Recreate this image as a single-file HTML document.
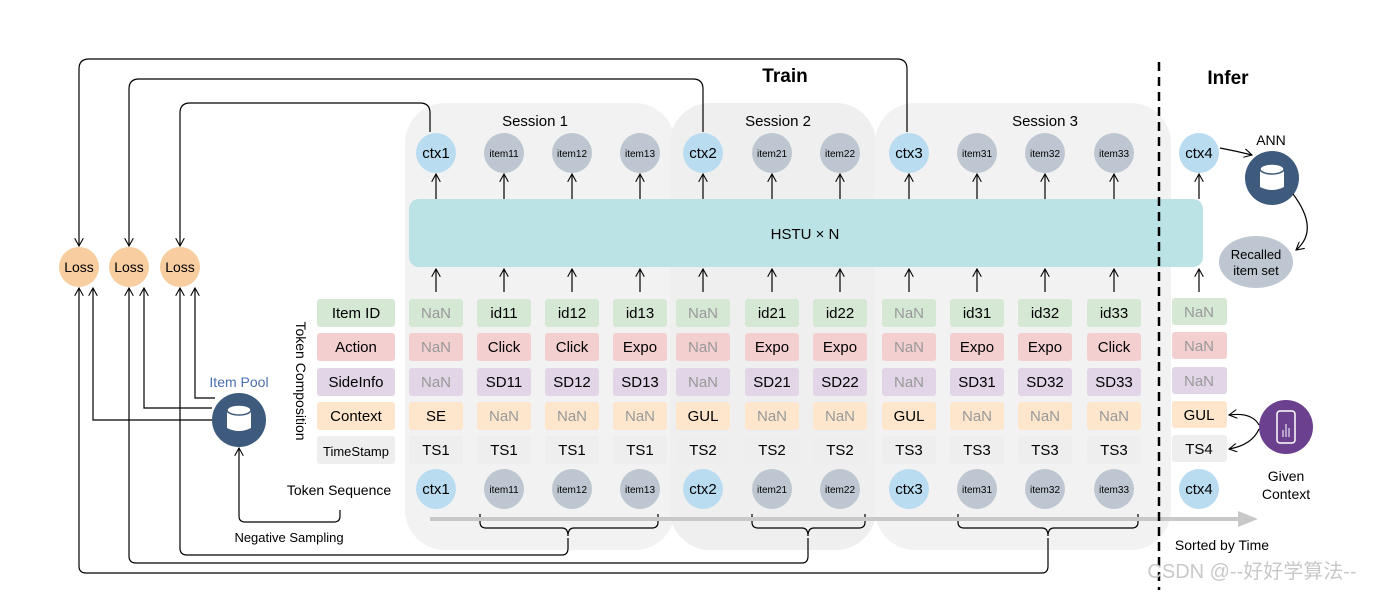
<!DOCTYPE html>
<html><head><meta charset="utf-8"><style>
html,body{margin:0;padding:0;background:#fff;}
svg{display:block;font-family:"Liberation Sans","Noto Sans CJK SC",sans-serif;}
</style></head><body>
<svg width="1390" height="592" viewBox="0 0 1390 592" xmlns="http://www.w3.org/2000/svg">
<defs>
<marker id="a" viewBox="0 0 10 10" refX="9" refY="5" markerWidth="9" markerHeight="9" orient="auto-start-reverse" markerUnits="userSpaceOnUse">
<path d="M0,0 L9,5 L0,10" fill="none" stroke="#000" stroke-width="1.2"/></marker>
</defs>
<rect width="1390" height="592" fill="#fff"/>
<rect x="405" y="103" width="270" height="447" rx="40" fill="#f2f2f2"/>
<rect x="670" y="103" width="206" height="447" rx="40" fill="#efefef"/>
<rect x="875" y="103" width="296" height="447" rx="40" fill="#f2f2f2"/>
<text x="535" y="126" font-size="15" text-anchor="middle">Session 1</text>
<text x="778" y="126" font-size="15" text-anchor="middle">Session 2</text>
<text x="1045" y="126" font-size="15" text-anchor="middle">Session 3</text>
<text x="785" y="82" font-size="19" font-weight="bold" text-anchor="middle">Train</text>
<text x="1228" y="84" font-size="19" font-weight="bold" text-anchor="middle">Infer</text>
<g fill="none" stroke="#000" stroke-width="1.2">
<path d="M79,246 V69 Q79,59 89,59 H897 Q907,59 907,69 V132" marker-start="url(#a)"/>
<path d="M129,246 V89 Q129,79 139,79 H693 Q703,79 703,89 V132" marker-start="url(#a)"/>
<path d="M180,246 V113 Q180,103 190,103 H420 Q430,103 430,113 V132" marker-start="url(#a)"/>
<path d="M79,288 V566 Q79,573 86,573 H1042 Q1048,573 1048,566 V538" marker-start="url(#a)"/>
<path d="M129,288 V556 Q129,563 136,563 H802 Q808,563 808,556 V538" marker-start="url(#a)"/>
<path d="M180,288 V548 Q180,555 187,555 H562 Q568,555 568,548 V538" marker-start="url(#a)"/>
<path d="M93,288 V420 H212" marker-start="url(#a)"/>
<path d="M144,288 V408 H212" marker-start="url(#a)"/>
<path d="M195,288 V398 H215" marker-start="url(#a)"/>
<path d="M340,510 V516 Q340,522 334,522 H245 Q239,522 239,516 V448" marker-end="url(#a)"/>
<path d="M480,514 V522 Q480,528 486,528 H562 Q568,528 568,536 Q568,528 574,528 H652 Q658,528 658,522 V514"/>
<path d="M752,514 V522 Q752,528 758,528 H802 Q808,528 808,536 Q808,528 814,528 H859 Q865,528 865,522 V514"/>
<path d="M958,514 V522 Q958,528 964,528 H1042 Q1048,528 1048,536 Q1048,528 1054,528 H1132 Q1138,528 1138,522 V514"/>
</g>
<line x1="430" y1="519" x2="1240" y2="519" stroke="#c8c8c8" stroke-width="4"/>
<path d="M1238,511 L1258,519 L1238,527 Z" fill="#c8c8c8"/>
<rect x="409" y="199" width="794" height="68" rx="10" fill="#bbe2e4"/>
<text x="805" y="239" font-size="15" text-anchor="middle">HSTU × N</text>
<line x1="1159" y1="62" x2="1159" y2="590" stroke="#000" stroke-width="2.5" stroke-dasharray="9,6"/>
<g font-size="14" text-anchor="middle">
<circle cx="79" cy="267" r="20" fill="#f8cda0"/><text x="79" y="272">Loss</text>
<circle cx="129" cy="267" r="20" fill="#f8cda0"/><text x="129" y="272">Loss</text>
<circle cx="180" cy="267" r="20" fill="#f8cda0"/><text x="180" y="272">Loss</text>
</g>
<text x="239" y="387" font-size="14" fill="#4a6fb0" text-anchor="middle">Item Pool</text>
<circle cx="239" cy="420" r="27" fill="#3e5a7c"/>
<path d="M227,410 V428 Q239,434 251,428 V410" fill="#fff"/>
<ellipse cx="239" cy="410" rx="12" ry="5" fill="#fff" stroke="#3e5a7c" stroke-width="1.5"/>
<text x="296" y="381" font-size="14" text-anchor="middle" transform="rotate(90 296 381)">Token Composition</text>
<text x="339" y="495" font-size="14" text-anchor="middle">Token Sequence</text>
<text x="289" y="542" font-size="13" text-anchor="middle">Negative Sampling</text>
<text x="1222" y="550" font-size="14" text-anchor="middle">Sorted by Time</text>
<g font-size="15" text-anchor="middle">
<rect x="317" y="299" width="78" height="28" rx="3" fill="#d5e8d4"/><text x="356" y="318">Item ID</text>
<rect x="317" y="333" width="78" height="28" rx="3" fill="#f3cfcf"/><text x="356" y="352">Action</text>
<rect x="317" y="368" width="78" height="28" rx="3" fill="#e1d5e7"/><text x="356" y="387">SideInfo</text>
<rect x="317" y="402" width="78" height="28" rx="3" fill="#fde6cc"/><text x="356" y="421">Context</text>
<rect x="317" y="436" width="78" height="28" rx="3" fill="#eeeeee"/><text x="356" y="456" font-size="13">TimeStamp</text>
</g>
<g id="cells" font-size="15" text-anchor="middle"></g>
<text x="1271" y="145" font-size="14" text-anchor="middle">ANN</text>
<circle cx="1272" cy="178" r="27" fill="#3e5a7c"/>
<path d="M1260,169 V187 Q1272,193 1284,187 V169" fill="#fff"/>
<ellipse cx="1272" cy="169" rx="12" ry="5" fill="#fff" stroke="#3e5a7c" stroke-width="1.5"/>
<path d="M1220,148 Q1236,151 1252,155" fill="none" stroke="#000" stroke-width="1.2" marker-end="url(#a)"/>
<ellipse cx="1256" cy="262" rx="37" ry="26" fill="#bec7d1"/>
<text x="1256" y="259" font-size="13" text-anchor="middle">Recalled</text>
<text x="1256" y="275" font-size="13" text-anchor="middle">item set</text>
<path d="M1293,194 Q1320,230 1296,250" fill="none" stroke="#000" stroke-width="1.2" marker-end="url(#a)"/>
<circle cx="1286" cy="427" r="27" fill="#6b418f"/>
<rect x="1277" y="411" width="18" height="32" rx="3" fill="none" stroke="#fff" stroke-width="1.5"/>
<line x1="1283" y1="430" x2="1283" y2="437" stroke="#fff"/><line x1="1286" y1="424" x2="1286" y2="437" stroke="#fff"/><line x1="1289" y1="428" x2="1289" y2="437" stroke="#fff"/>
<path d="M1259,425 Q1252,412 1229,415" fill="none" stroke="#000" stroke-width="1.2" marker-end="url(#a)"/>
<path d="M1259,429 Q1252,445 1229,449" fill="none" stroke="#000" stroke-width="1.2" marker-end="url(#a)"/>
<text x="1286" y="481" font-size="14" text-anchor="middle">Given</text>
<text x="1286" y="499" font-size="14" text-anchor="middle">Context</text>
<text x="1252" y="578" font-size="20" fill="#c8c8c8" text-anchor="middle">CSDN @--好好学算法--</text>
</svg>
<script>
(function(){
var NS="http://www.w3.org/2000/svg";
var g=document.getElementById("cells");
function el(tag,attrs,txt){var e=document.createElementNS(NS,tag);for(var k in attrs)e.setAttribute(k,attrs[k]);if(txt!=null)e.textContent=txt;g.appendChild(e);return e;}
var cols=[436,504,572,640,703,772,840,909,977,1045,1114];
var tops=["ctx1","item11","item12","item13","ctx2","item21","item22","ctx3","item31","item32","item33"];
var ids=["NaN","id11","id12","id13","NaN","id21","id22","NaN","id31","id32","id33"];
var act=["NaN","Click","Click","Expo","NaN","Expo","Expo","NaN","Expo","Expo","Click"];
var sd=["NaN","SD11","SD12","SD13","NaN","SD21","SD22","NaN","SD31","SD32","SD33"];
var cx=["SE","NaN","NaN","NaN","GUL","NaN","NaN","GUL","NaN","NaN","NaN"];
var ts=["TS1","TS1","TS1","TS1","TS2","TS2","TS2","TS3","TS3","TS3","TS3"];
var rows=[[ids,299,"#d5e8d4"],[act,333,"#f3cfcf"],[sd,368,"#e1d5e7"],[cx,402,"#fde6cc"],[ts,436,"#eeeeee"]];
function circ(x,y,t){var c=t.indexOf("ctx")==0;el("circle",{cx:x,cy:y,r:20,fill:c?"#b9dcf0":"#bec7d1"});el("text",{x:x,y:y+(c?5:4),"font-size":c?15:10},t);}
function arr(x){
 el("line",{x1:x,y1:199,x2:x,y2:174,stroke:"#000","stroke-width":1.2,"marker-end":"url(#a)"});
 el("line",{x1:x,y1:292,x2:x,y2:269,stroke:"#000","stroke-width":1.2,"marker-end":"url(#a)"});}
cols.forEach(function(x,i){
 circ(x,153,tops[i]);circ(x,489,tops[i]);arr(x);
 rows.forEach(function(r){var t=r[0][i];el("rect",{x:x-27,y:r[1],width:54,height:28,rx:3,fill:r[2]});el("text",{x:x,y:r[1]+19,fill:t=="NaN"?"#999":"#000"},t);});
});
var ix=1199;
circ(ix,153,"ctx4");circ(ix,489,"ctx4");arr(ix);
[["NaN",299,"#d5e8d4"],["NaN",333,"#f3cfcf"],["NaN",368,"#e1d5e7"],["GUL",402,"#fde6cc"],["TS4",436,"#eeeeee"]].forEach(function(r){
 el("rect",{x:ix-27,y:r[1]-1,width:55,height:27,rx:3,fill:r[2]});el("text",{x:ix,y:r[1]+18,fill:r[0]=="NaN"?"#999":"#000"},r[0]);});
})();
</script>
</body></html>
